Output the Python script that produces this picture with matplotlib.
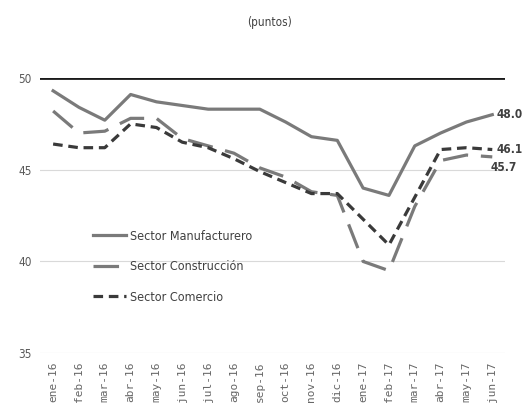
import matplotlib
matplotlib.use("Agg")
from matplotlib import pyplot as plt
import numpy as np

plt.rcParams['font.family'] = ['DejaVu Sans']
plt.rcParams['font.stretch'] = 'condensed'

meses = ['ene-16', 'feb-16', 'mar-16', 'abr-16', 'may-16', 'jun-16', 'jul-16',
         'ago-16', 'sep-16', 'oct-16', 'nov-16', 'dic-16', 'ene-17', 'feb-17',
         'mar-17', 'abr-17', 'may-17', 'jun-17']

manufacturero = [49.3, 48.4, 47.7, 49.1, 48.7, 48.5, 48.3, 48.3, 48.3, 47.6,
                 46.8, 46.6, 44.0, 43.6, 46.3, 47.0, 47.6, 48.0]
construccion = [48.2, 47.0, 47.1, 47.8, 47.8, 46.7, 46.3, 45.9, 45.1, 44.6,
                43.8, 43.6, 40.0, 39.5, 43.0, 45.5, 45.8, 45.7]
comercio = [46.4, 46.2, 46.2, 47.5, 47.3, 46.5, 46.2, 45.6, 44.9, 44.3,
            43.7, 43.7, 42.3, 40.9, 43.5, 46.1, 46.2, 46.1]

fig = plt.figure(figsize=(5.29, 4.17), dpi=100)
ax = fig.add_axes([0.076, 0.153, 0.879, 0.66])

x = np.arange(len(meses))

ax.axhline(50, color='#1a1a1a', lw=2, zorder=1)
ax.plot(x, manufacturero, color='#7a7a7a', lw=2.3, label='Sector Manufacturero')
ax.plot(x, construccion, color='#7a7a7a', lw=2.3, dashes=(8, 4), label='Sector Construcción')
ax.plot(x, comercio, color='#3a3a3a', lw=2.3, dashes=(3, 1.8), label='Sector Comercio')

ax.set_xlim(-0.5, len(meses) - 0.5)
ax.set_ylim(35, 50)
ax.set_yticks([35, 40, 45, 50])
ax.grid(axis='y', color='#d9d9d9', lw=0.8)
ax.set_axisbelow(True)
for s in ax.spines.values():
    s.set_visible(False)

ax.set_xticks(x)
ax.set_xticklabels(meses, rotation=90, fontsize=8, color='#666666',
                   family='DejaVu Sans Mono')
ax.tick_params(axis='both', length=0, pad=6)
ax.tick_params(axis='y', labelsize=8.5, labelcolor='#595959')

# etiquetas finales
ax.text(x[-1] + 0.15, manufacturero[-1], '%.1f' % manufacturero[-1], fontsize=8.5,
        color='#404040', fontweight='bold', va='center', ha='left', clip_on=False)
ax.text(x[-1] + 0.15, comercio[-1], '%.1f' % comercio[-1], fontsize=8.5,
        color='#404040', fontweight='bold', va='center', ha='left', clip_on=False)
ax.text(x[-1] - 0.05, construccion[-1] - 0.6, '%.1f' % construccion[-1], fontsize=8.5,
        color='#404040', fontweight='bold', va='center', ha='left', clip_on=False)

ax.legend(loc='upper left', bbox_to_anchor=(0.09, 0.49), frameon=False,
          fontsize=9, labelspacing=1.4, handlelength=2.6, handletextpad=0.3,
          labelcolor='#404040')

fig.text(0.51, 0.945, '(puntos)', ha='center', va='center', fontsize=8.5, color='#404040')

plt.savefig('out.png', dpi=100)
